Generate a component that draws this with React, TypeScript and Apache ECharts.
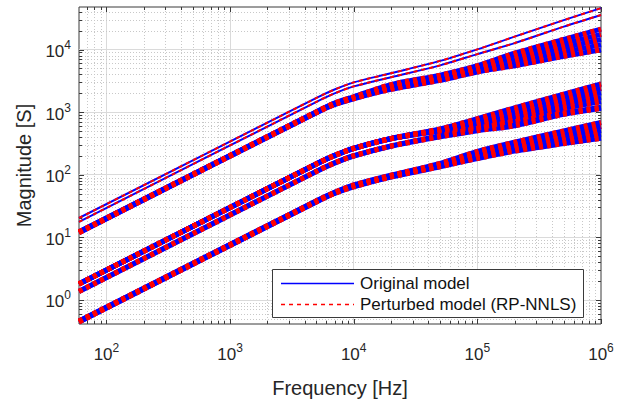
import React, { useEffect, useRef } from "react";
import * as echarts from "echarts";

// ---------- data ----------
const FREQ = [60, 5000, 7000, 10000, 20000, 50000, 100000, 200000, 500000, 1000000];

// thin pair at the top
const A1 = [20.3, 1690, 2300, 2990, 4180, 6600, 10100, 16100, 29600, 46000];
const A2 = [17.6, 1465, 1996, 2582, 3620, 5600, 8470, 12700, 23300, 35800];

// upper wide band
const B1 = [12.2, 1020, 1400, 1761, 2760, 3912, 5525, 8757, 14580, 21230];
const B2 = [12.1, 1010, 1380, 1730, 2639, 3728, 5216, 7805, 12465, 17550];
const B3 = [12.0, 1000, 1361, 1700, 2525, 3550, 4925, 6956, 10660, 14505];
const B4 = [11.9, 990, 1342, 1670, 2416, 3380, 4649, 6200, 9112, 11990];
const B5 = [11.8, 980, 1323, 1640, 2310, 3220, 4389, 5525, 7791, 9912];

// middle band (upper member group)
const C1A = [1.8, 150, 204, 265, 380, 541, 787, 1171, 1943, 2818];
const C1B = [1.795, 149.5, 203.5, 264, 378.5, 530, 724, 1046, 1701, 2392];
const C1C = [1.79, 149, 203, 263, 377, 519, 666, 935, 1490, 2031];
const C1D = [1.785, 148.5, 202.5, 262, 375.5, 508, 612, 835, 1305, 1724];
const C1E = [1.78, 148, 202, 261, 374, 498, 562, 747, 1142, 1464];

// middle band (lower member group)
const C2A = [1.37, 114, 155.5, 201, 288, 422, 552, 708, 974, 1204];
const C2B = [1.35, 112.5, 153, 199, 285, 402, 506, 604, 923, 1142];

// lowest band
const D1 = [0.46, 38.3, 52.2, 68.5, 98.2, 152, 236, 331, 502, 683];
const D2 = [0.455, 37.9, 51.6, 67.3, 96.5, 147, 221, 304, 446, 591];
const D3 = [0.45, 37.5, 51.1, 66.1, 94.8, 142.5, 207, 280, 397, 510];
const D4 = [0.445, 37.1, 50.6, 64.9, 93.1, 138, 193, 258, 353, 441];
const D5 = [0.44, 36.7, 50.0, 63.8, 91.5, 133.7, 181, 238, 314, 381];

const THIN_LINES = [A1, A2];
const BAND_LINES = [B1, B2, B3, B4, B5, C1A, C1B, C1C, C1D, C1E, C2A, C2B, D1, D2, D3, D4, D5];

const ORIGINAL = "Original model";
const PERTURBED = "Perturbed model (RP-NNLS)";

// axes
const X_MIN = 60;
const X_MAX = 1000000;
const Y_MIN = 0.41;
const Y_MAX = 48000;
const X_MAJOR = [100, 1000, 10000, 100000, 1000000];
const Y_MAJOR = [1, 10, 100, 1000, 10000];
const X_DECADES = [10, 100, 1000, 10000, 100000];
const Y_DECADES = [0.1, 1, 10, 100, 1000, 10000];
const MINOR_STEPS = [2, 3, 4, 5, 6, 7, 8, 9];

// ---------- styles ----------
const FONT = '"Liberation Sans", Arial, Helvetica, sans-serif';
const BLUE = "#0000ff";
const RED = "#ff0000";
const TEXT = "#262626";
const AXIS = "#3a3a3a";
const GRID_MAJOR = "#dadada";
const GRID_MINOR = "#c8c8c8";
const BAND_WIDTH = 5;
const THIN_WIDTH = 2;

function minorTicks(decades: number[], lo: number, hi: number) {
  const out: number[] = [];
  decades.forEach((d) =>
    MINOR_STEPS.forEach((k) => {
      const v = k * d;
      if (v > lo * 1.0001 && v < hi * 0.9999) out.push(v);
    })
  );
  return out;
}

const powLabel = (v: number) => {
  const e = Math.round(Math.log10(v));
  if (Math.abs(v / Math.pow(10, e) - 1) > 1e-6) return "";
  return `{b|10}{e|${e}}`;
};

const labelRich = {
  b: { fontSize: 17, fontFamily: FONT, color: TEXT, verticalAlign: "bottom" },
  e: { fontSize: 12, lineHeight: 12, fontFamily: FONT, color: TEXT, verticalAlign: "top" },
};

function lineSeries(name: string, vals: number[], color: string, width: number, dashed: boolean) {
  return {
    type: "line",
    name,
    data: FREQ.map((f, i) => [f, vals[i]]),
    symbol: "none",
    showSymbol: false,
    smooth: 0.3,
    silent: true,
    z: 3,
    itemStyle: { color },
    lineStyle: { color, width, type: dashed ? [4, 4] : "solid", cap: "butt" },
    emphasis: { disabled: true },
  };
}

function buildOption() {
  const series: any[] = [];
  THIN_LINES.forEach((v) => series.push(lineSeries(ORIGINAL, v, BLUE, THIN_WIDTH, false)));
  BAND_LINES.forEach((v) => series.push(lineSeries(ORIGINAL, v, BLUE, BAND_WIDTH, false)));
  THIN_LINES.forEach((v) => series.push(lineSeries(PERTURBED, v, RED, THIN_WIDTH, true)));
  BAND_LINES.forEach((v) => series.push(lineSeries(PERTURBED, v, RED, BAND_WIDTH, true)));

  const xTicks = [
    ...X_MAJOR.map((v) => [v, Y_MIN, 1]),
    ...minorTicks(X_DECADES, X_MIN, X_MAX).map((v) => [v, Y_MIN, 0]),
  ];
  const yTicks = [
    ...Y_MAJOR.map((v) => [X_MIN, v, 1]),
    ...minorTicks(Y_DECADES, Y_MIN, Y_MAX).map((v) => [X_MIN, v, 0]),
  ];

  series.push({
    type: "custom",
    coordinateSystem: "cartesian2d",
    silent: true,
    z: 1,
    data: xTicks,
    encode: { x: 0, y: 1 },
    renderItem: (_p: any, api: any) => {
      const v = api.value(0);
      const major = api.value(2) === 1;
      const b = api.coord([v, Y_MIN]);
      const t = api.coord([v, Y_MAX]);
      const x = Math.round(b[0]) + 0.5;
      const len = major ? 5 : 3;
      const children: any[] = [];
      if (!major)
        children.push({
          type: "line",
          shape: { x1: x, y1: b[1], x2: x, y2: t[1] },
          style: { stroke: GRID_MINOR, lineWidth: 1, lineDash: [1, 2] },
        });
      children.push({ type: "line", shape: { x1: x, y1: b[1], x2: x, y2: b[1] - len }, style: { stroke: AXIS, lineWidth: 1 } });
      children.push({ type: "line", shape: { x1: x, y1: t[1], x2: x, y2: t[1] + len }, style: { stroke: AXIS, lineWidth: 1 } });
      return { type: "group", children };
    },
  });

  series.push({
    type: "custom",
    coordinateSystem: "cartesian2d",
    silent: true,
    z: 1,
    data: yTicks,
    encode: { x: 0, y: 1 },
    renderItem: (_p: any, api: any) => {
      const v = api.value(1);
      const major = api.value(2) === 1;
      const l = api.coord([X_MIN, v]);
      const r = api.coord([X_MAX, v]);
      const y = Math.round(l[1]) + 0.5;
      const len = major ? 5 : 3;
      const children: any[] = [];
      if (!major)
        children.push({
          type: "line",
          shape: { x1: l[0], y1: y, x2: r[0], y2: y },
          style: { stroke: GRID_MINOR, lineWidth: 1, lineDash: [1, 2] },
        });
      children.push({ type: "line", shape: { x1: l[0], y1: y, x2: l[0] + len, y2: y }, style: { stroke: AXIS, lineWidth: 1 } });
      children.push({ type: "line", shape: { x1: r[0], y1: y, x2: r[0] - len, y2: y }, style: { stroke: AXIS, lineWidth: 1 } });
      return { type: "group", children };
    },
  });

  // legend box (drawn as graphic so the icons are exact)
  const LZ = 100;
  const legendGraphic = {
    type: "group",
    left: 272,
    top: 269,
    z: LZ,
    children: [
      {
        type: "rect",
        z: LZ,
        shape: { x: 0.5, y: 0.5, width: 311, height: 48 },
        style: { fill: "#ffffff", stroke: AXIS, lineWidth: 1 },
      },
      {
        type: "line",
        z: LZ + 1,
        shape: { x1: 9, y1: 14.5, x2: 82, y2: 14.5 },
        style: { stroke: BLUE, lineWidth: 1.3 },
      },
      {
        type: "line",
        z: LZ + 1,
        shape: { x1: 9, y1: 35.5, x2: 82, y2: 35.5 },
        style: { stroke: RED, lineWidth: 1.3, lineDash: [4, 4] },
      },
      {
        type: "text",
        z: LZ + 1,
        x: 88,
        y: 14.5,
        style: { text: ORIGINAL, fontSize: 17, fontFamily: FONT, fill: "#111111", verticalAlign: "middle", align: "left" },
      },
      {
        type: "text",
        z: LZ + 1,
        x: 88,
        y: 35.5,
        style: { text: PERTURBED, fontSize: 17, fontFamily: FONT, fill: "#111111", verticalAlign: "middle", align: "left" },
      },
    ],
  };

  return {
    animation: false,
    backgroundColor: "#ffffff",
    textStyle: { fontFamily: FONT },
    grid: {
      left: 79,
      top: 7,
      width: 522,
      height: 330,
      show: true,
      borderColor: AXIS,
      borderWidth: 1,
      backgroundColor: "transparent",
    },
    graphic: { elements: [legendGraphic], z: LZ },
    xAxis: {
      type: "log",
      logBase: 10,
      min: X_MIN,
      max: X_MAX,
      name: "Frequency [Hz]",
      nameLocation: "middle",
      nameGap: 54,
      nameTextStyle: { fontSize: 20, fontFamily: FONT, color: TEXT },
      axisLine: { show: false },
      axisTick: { show: false },
      splitLine: { show: true, showMinLine: false, showMaxLine: false, lineStyle: { color: GRID_MAJOR, width: 1 } },
      axisLabel: {
        margin: 18,
        lineHeight: 21,
        formatter: powLabel,
        rich: labelRich,
        showMinLabel: false,
      },
    },
    yAxis: {
      type: "log",
      logBase: 10,
      min: Y_MIN,
      max: Y_MAX,
      name: "Magnitude [S]",
      nameLocation: "middle",
      nameRotate: 90,
      nameGap: 45,
      nameTextStyle: { fontSize: 20, fontFamily: FONT, color: TEXT },
      axisLine: { show: false },
      axisTick: { show: false },
      splitLine: { show: true, showMinLine: false, showMaxLine: false, lineStyle: { color: GRID_MAJOR, width: 1 } },
      axisLabel: {
        margin: 8,
        lineHeight: 21,
        formatter: powLabel,
        rich: labelRich,
        showMinLabel: false,
        showMaxLabel: false,
      },
    },
    series,
  };
}

export default function App() {
  const ref = useRef<HTMLDivElement>(null);
  useEffect(() => {
    const chart = echarts.init(ref.current as HTMLDivElement, null, { renderer: "svg" });
    chart.setOption(buildOption() as any);
    return () => chart.dispose();
  }, []);
  return (
    <div
      ref={ref}
      style={{ position: "fixed", left: 0, top: 0, width: 631, height: 403, background: "#fff" }}
    />
  );
}
